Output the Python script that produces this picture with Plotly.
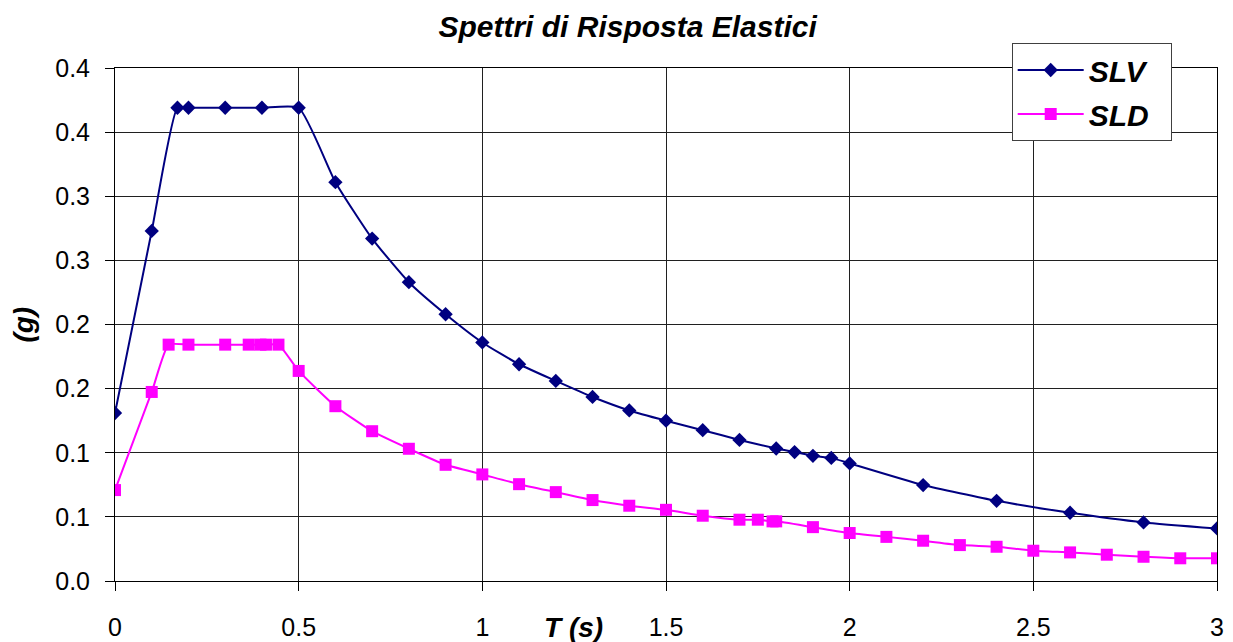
import plotly.graph_objects as go

# ---- data ----
T_SLV = [0, 0.1, 0.17, 0.2, 0.3, 0.4, 0.5, 0.6, 0.7, 0.8, 0.9, 1.0, 1.1, 1.2, 1.3,
         1.4, 1.5, 1.6, 1.7, 1.8, 1.85, 1.9, 1.95, 2.0, 2.2, 2.4, 2.6, 2.8, 3.0]
SLV = [0.131, 0.273, 0.369, 0.369, 0.369, 0.369, 0.369, 0.311, 0.267, 0.233, 0.208,
       0.186, 0.169, 0.156, 0.1435, 0.133, 0.125, 0.1176, 0.110, 0.1033, 0.1005,
       0.0976, 0.096, 0.0917, 0.0748, 0.0625, 0.0532, 0.0457, 0.041]

T_SLD = [0, 0.1, 0.146, 0.2, 0.3, 0.364, 0.396, 0.411, 0.445, 0.5, 0.6, 0.7, 0.8, 0.9,
         1.0, 1.1, 1.2, 1.3, 1.4, 1.5, 1.6, 1.7, 1.75, 1.79, 1.8, 1.9, 2.0, 2.1, 2.2,
         2.3, 2.4, 2.5, 2.6, 2.7, 2.8, 2.9, 3.0]
SLD = [0.0709, 0.1474, 0.1843, 0.1843, 0.1843, 0.1843, 0.1843, 0.1843, 0.1843, 0.1638,
       0.1363, 0.1168, 0.1031, 0.0906, 0.0831, 0.0755, 0.0693, 0.0631, 0.0587, 0.0555,
       0.0509, 0.0478, 0.0478, 0.0465, 0.0465, 0.042, 0.0374, 0.0344, 0.0314, 0.028,
       0.0267, 0.0236, 0.0223, 0.0205, 0.0189, 0.0177, 0.0177]

SERIES_NAMES = ["SLV", "SLD"]

X_TICKS = [0, 0.5, 1, 1.5, 2, 2.5, 3]
X_TICK_LABELS = ["0", "0.5", "1", "1.5", "2", "2.5", "3"]
Y_TICKS = [0, 0.05, 0.1, 0.15, 0.2, 0.25, 0.3, 0.35, 0.4]
Y_TICK_LABELS = ["0.0", "0.1", "0.1", "0.2", "0.2", "0.3", "0.3", "0.4", "0.4"]

TITLE = "Spettri di Risposta Elastici"
X_TITLE = "T (s)"
Y_TITLE = "(g)"

FONT = "Liberation Sans, Arial, sans-serif"
PAD = "\u00a0\u00a0"  # right padding inside the legend box

fig = go.Figure()
fig.add_trace(go.Scatter(
    x=T_SLV, y=SLV, name=SERIES_NAMES[0] + PAD, mode="lines+markers", legendgroup="a",
    line=dict(color="#000080", width=2, shape="spline", smoothing=0.5),
    marker=dict(symbol="diamond", size=11, color="#000080"),
))
fig.add_trace(go.Scatter(
    x=T_SLD, y=SLD, name=SERIES_NAMES[1] + PAD, mode="lines+markers", legendgroup="b",
    line=dict(color="#FF00FF", width=2, shape="spline", smoothing=0.5),
    marker=dict(symbol="square", size=12, color="#FF00FF"),
))

axis_common = dict(
    showgrid=True, gridcolor="#202020", gridwidth=1,
    showline=True, linecolor="#000000", linewidth=1, mirror=True,
    ticks="outside", ticklen=9, tickcolor="#000000",
    tickfont=dict(family=FONT, size=25, color="#000000"),
    zeroline=False, automargin=False,
)

fig.update_xaxes(range=[0, 3], tickvals=X_TICKS, ticktext=X_TICK_LABELS,
                 ticklabelstandoff=15, **axis_common)
fig.update_yaxes(range=[0, 0.4], tickvals=Y_TICKS, ticktext=Y_TICK_LABELS,
                 ticklabelstandoff=10, **axis_common)

fig.update_layout(
    width=1233, height=642,
    margin=dict(l=115, r=16, t=68, b=61, autoexpand=False),
    paper_bgcolor="white", plot_bgcolor="white",
    title=dict(text=TITLE, x=0.509, xref="container", xanchor="center",
               y=0.958, yanchor="middle", yref="container",
               font=dict(family=FONT, size=30, color="#000000",
                         weight="bold", style="italic")),
    legend=dict(x=0.8137, y=1.0487, xanchor="left", yanchor="top",
                bgcolor="white", bordercolor="#404040", borderwidth=1,
                font=dict(family=FONT, size=30, color="#000000",
                          weight="bold", style="italic"),
                itemwidth=66, tracegroupgap=2),
    showlegend=True,
    annotations=[
        dict(text=X_TITLE, xref="paper", yref="paper", x=0.4157, y=-0.0897,
             xanchor="center", yanchor="middle", showarrow=False,
             font=dict(family=FONT, size=28, color="#000000",
                       weight="bold", style="italic")),
        dict(text=Y_TITLE, xref="paper", yref="paper", x=-0.0839, y=0.499,
             xanchor="center", yanchor="middle", showarrow=False, textangle=-90,
             font=dict(family=FONT, size=28, color="#000000",
                       weight="bold", style="italic")),
    ],
)

fig.write_html("out.html")
